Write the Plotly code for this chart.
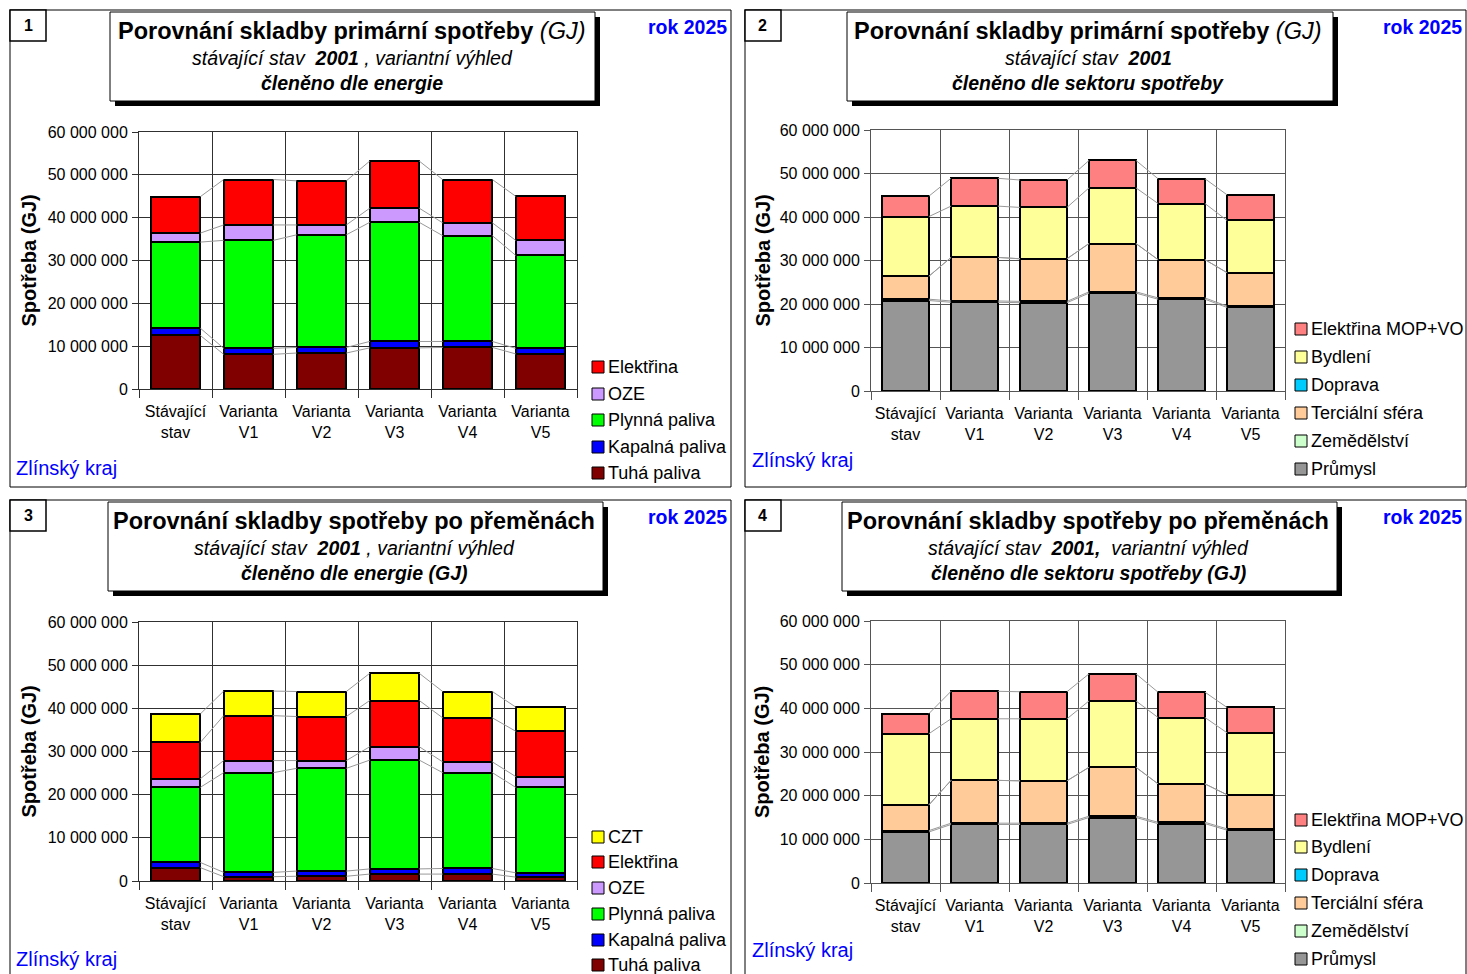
import plotly.graph_objects as go

W, H = 1467, 974
FONT = "Liberation Sans, Arial, sans-serif"

categories = ["Stávající<br>stav", "Varianta<br>V1", "Varianta<br>V2",
              "Varianta<br>V3", "Varianta<br>V4", "Varianta<br>V5"]
y_ticks = [0, 10_000_000, 20_000_000, 30_000_000, 40_000_000, 50_000_000, 60_000_000]

# ---- Chart 1: primary consumption by energy (GJ)
c1_tuha = [12_500_000, 8_100_000, 8_400_000, 9_600_000, 9_700_000, 8_200_000]
c1_kapalna = [1_700_000, 1_400_000, 1_300_000, 1_500_000, 1_400_000, 1_300_000]
c1_plynna = [20_100_000, 25_200_000, 26_300_000, 27_800_000, 24_700_000, 21_700_000]
c1_oze = [2_100_000, 3_600_000, 2_300_000, 3_300_000, 3_000_000, 3_500_000]
c1_elektrina = [8_500_000, 10_600_000, 10_300_000, 11_000_000, 10_100_000, 10_300_000]

# ---- Chart 2: primary consumption by sector (GJ)
c2_prumysl = [20_800_000, 20_400_000, 20_300_000, 22_500_000, 21_100_000, 19_200_000]
c2_zemedelstvi = [300_000, 300_000, 300_000, 300_000, 300_000, 300_000]
c2_tercialni = [5_300_000, 10_000_000, 9_800_000, 11_100_000, 8_800_000, 7_700_000]
c2_doprava = [0, 0, 0, 0, 0, 0]
c2_bydleni = [13_700_000, 11_800_000, 11_800_000, 12_800_000, 12_900_000, 12_000_000]
c2_elektrina = [4_700_000, 6_400_000, 6_300_000, 6_300_000, 5_700_000, 5_900_000]

# ---- Chart 3: consumption after conversion by energy (GJ)
c3_tuha = [3_100_000, 1_000_000, 1_100_000, 1_600_000, 1_600_000, 900_000]
c3_kapalna = [1_200_000, 1_000_000, 1_200_000, 1_200_000, 1_300_000, 1_000_000]
c3_plynna = [17_400_000, 23_100_000, 23_800_000, 25_200_000, 22_200_000, 19_800_000]
c3_oze = [2_000_000, 2_800_000, 1_800_000, 3_100_000, 2_500_000, 2_500_000]
c3_elektrina = [8_400_000, 10_400_000, 10_200_000, 10_700_000, 10_200_000, 10_500_000]
c3_czt = [6_600_000, 5_700_000, 5_800_000, 6_300_000, 6_100_000, 5_600_000]

# ---- Chart 4: consumption after conversion by sector (GJ)
c4_prumysl = [11_700_000, 13_400_000, 13_400_000, 15_000_000, 13_600_000, 12_100_000]
c4_zemedelstvi = [300_000, 300_000, 300_000, 300_000, 300_000, 300_000]
c4_tercialni = [5_900_000, 9_800_000, 9_700_000, 11_200_000, 8_800_000, 7_800_000]
c4_doprava = [0, 0, 0, 0, 0, 0]
c4_bydleni = [16_300_000, 14_100_000, 14_200_000, 15_200_000, 15_200_000, 14_200_000]
c4_elektrina = [4_600_000, 6_300_000, 6_200_000, 6_200_000, 5_800_000, 5_800_000]

COL = {
    "Tuhá paliva": "#800000", "Kapalná paliva": "#0000FF", "Plynná paliva": "#00FF00",
    "OZE": "#CC99FF", "Elektřina": "#FF0000", "CZT": "#FFFF00",
    "Průmysl": "#969696", "Zemědělství": "#CCFFCC", "Terciální sféra": "#FFCC99",
    "Doprava": "#00CCFF", "Bydlení": "#FFFF99", "Elektřina MOP+VO": "#FF8080",
}

energy1 = [("Tuhá paliva", c1_tuha), ("Kapalná paliva", c1_kapalna), ("Plynná paliva", c1_plynna),
           ("OZE", c1_oze), ("Elektřina", c1_elektrina)]
sector2 = [("Průmysl", c2_prumysl), ("Zemědělství", c2_zemedelstvi), ("Terciální sféra", c2_tercialni),
           ("Doprava", c2_doprava), ("Bydlení", c2_bydleni), ("Elektřina MOP+VO", c2_elektrina)]
energy3 = [("Tuhá paliva", c3_tuha), ("Kapalná paliva", c3_kapalna), ("Plynná paliva", c3_plynna),
           ("OZE", c3_oze), ("Elektřina", c3_elektrina), ("CZT", c3_czt)]
sector4 = [("Průmysl", c4_prumysl), ("Zemědělství", c4_zemedelstvi), ("Terciální sféra", c4_tercialni),
           ("Doprava", c4_doprava), ("Bydlení", c4_bydleni), ("Elektřina MOP+VO", c4_elektrina)]


def fx(p):
    return p / W


def fy(p):
    return 1 - p / H


panels = [
    dict(num="1", box=(10, 10, 731, 487), plot=(139, 132, 577, 389), grid="#303030",
         tbox=(110, 12, 595, 101), tcx=352, tys=(31, 58, 83),
         t1="<b>Porovnání skladby primární spotřeby</b> <i>(GJ)</i>",
         t2="<i>stávající stav  <b>2001</b> , variantní výhled</i>",
         t3="<b><i>členěno dle energie</i></b>",
         rok=(729, 27), zk=(14, 468), ytx=28,
         legx=592, legy=[367, 394, 420, 447, 473], series=energy1),
    dict(num="2", box=(745, 10, 1466, 487), plot=(871, 130, 1285, 391), grid="#555555",
         tbox=(847, 12, 1333, 101), tcx=1088, tys=(31, 58, 83),
         t1="<b>Porovnání skladby primární spotřeby</b> <i>(GJ)</i>",
         t2="<i>stávající stav  <b>2001</b></i>",
         t3="<b><i>členěno dle sektoru spotřeby</i></b>",
         rok=(1464, 27), zk=(750, 460), ytx=762,
         legx=1295, legy=[329, 357, 385, 413, 441, 469], series=sector2),
    dict(num="3", box=(10, 500, 731, 980), plot=(139, 622, 577, 881), grid="#303030",
         tbox=(108, 502, 603, 591), tcx=354, tys=(521, 548, 573),
         t1="<b>Porovnání skladby spotřeby po přeměnách</b>",
         t2="<i>stávající stav  <b>2001</b> , variantní výhled</i>",
         t3="<b><i>členěno dle energie (GJ)</i></b>",
         rok=(729, 517), zk=(14, 959), ytx=28,
         legx=592, legy=[837, 862, 888, 914, 940, 965], series=energy3),
    dict(num="4", box=(745, 500, 1466, 980), plot=(871, 621, 1285, 883), grid="#555555",
         tbox=(842, 502, 1337, 591), tcx=1088, tys=(521, 548, 573),
         t1="<b>Porovnání skladby spotřeby po přeměnách</b>",
         t2="<i>stávající stav  <b>2001,</b>  variantní výhled</i>",
         t3="<b><i>členěno dle sektoru spotřeby (GJ)</i></b>",
         rok=(1464, 517), zk=(750, 950), ytx=762,
         legx=1295, legy=[820, 847, 875, 903, 931, 959], series=sector4),
]

BAR_W = 0.68
xpos = list(range(len(categories)))

fig = go.Figure()
shapes = []
annotations = []
layout_axes = {}

for k, p in enumerate(panels, start=1):
    xa = "x" if k == 1 else f"x{k}"
    ya = "y" if k == 1 else f"y{k}"
    xkey = "xaxis" if k == 1 else f"xaxis{k}"
    ykey = "yaxis" if k == 1 else f"yaxis{k}"
    gc = p["grid"]

    # stacked bars
    cum = [0] * len(categories)
    tops = []
    for name, vals in p["series"]:
        fig.add_trace(go.Bar(
            x=xpos, y=vals, width=BAR_W, name=name,
            marker=dict(color=COL[name], line=dict(color="black", width=2)),
            xaxis=xa, yaxis=ya, showlegend=False))
        cum = [c + v for c, v in zip(cum, vals)]
        tops.append(list(cum))

    # Excel-style series lines joining segment tops
    lx, ly = [], []
    for t in tops:
        for i in range(len(categories) - 1):
            lx += [xpos[i] + BAR_W / 2, xpos[i + 1] - BAR_W / 2, None]
            ly += [t[i], t[i + 1], None]
    fig.add_trace(go.Scatter(x=lx, y=ly, mode="lines", line=dict(color="#999999", width=1),
                             xaxis=xa, yaxis=ya, hoverinfo="skip", showlegend=False))

    x0, y0, x1, y1 = p["plot"]
    layout_axes[xkey] = dict(
        domain=[fx(x0), fx(x1)], anchor=ya, range=[-0.5, len(categories) - 0.5],
        automargin=False,
        tickmode="array", tickvals=xpos, ticktext=categories, ticks="",
        ticklabelstandoff=8,
        showgrid=False, zeroline=False, showline=True, linecolor=gc, linewidth=1, mirror=True,
        tickfont=dict(family=FONT, size=16, color="black"),
        minor=dict(tickmode="array", tickvals=[i - 0.5 for i in range(len(categories) + 1)],
                   ticks="outside", ticklen=8, tickcolor=gc, showgrid=True,
                   gridcolor=gc, gridwidth=1),
    )
    layout_axes[ykey] = dict(
        domain=[fy(y1), fy(y0)], anchor=xa, range=[0, 60_000_000],
        automargin=False,
        tickmode="array", tickvals=y_ticks, tickformat=",d",
        ticks="outside", ticklen=6, tickcolor=gc, ticklabelstandoff=1,
        showgrid=True, gridcolor=gc, gridwidth=1, zeroline=False,
        showline=True, linecolor=gc, linewidth=1, mirror=True,
        tickfont=dict(family=FONT, size=16, color="black"),
    )

    # panel border
    bx0, by0, bx1, by1 = p["box"]
    shapes.append(dict(type="rect", xref="paper", yref="paper",
                       x0=fx(bx0), x1=fx(bx1), y0=fy(by1), y1=fy(by0),
                       line=dict(color="black", width=1), fillcolor="rgba(0,0,0,0)"))
    # number box
    shapes.append(dict(type="rect", xref="paper", yref="paper",
                       x0=fx(bx0), x1=fx(bx0 + 36), y0=fy(by0 + 31), y1=fy(by0),
                       line=dict(color="black", width=1.5), fillcolor="white"))
    annotations.append(dict(xref="paper", yref="paper", x=fx(bx0 + 18), y=fy(by0 + 15),
                            text=f"<b>{p['num']}</b>", showarrow=False,
                            font=dict(family=FONT, size=16, color="black"),
                            xanchor="center", yanchor="middle"))
    # title box with shadow
    tx0, ty0, tx1, ty1 = p["tbox"]
    shapes.append(dict(type="rect", xref="paper", yref="paper",
                       x0=fx(tx0 + 5), x1=fx(tx1 + 5), y0=fy(ty1 + 5), y1=fy(ty0 + 5),
                       line=dict(color="black", width=0), fillcolor="black"))
    shapes.append(dict(type="rect", xref="paper", yref="paper",
                       x0=fx(tx0), x1=fx(tx1), y0=fy(ty1), y1=fy(ty0),
                       line=dict(color="black", width=1), fillcolor="white"))
    for txt, ty, sz in [(p["t1"], p["tys"][0], 23.5), (p["t2"], p["tys"][1], 19.5),
                        (p["t3"], p["tys"][2], 19.5)]:
        annotations.append(dict(xref="paper", yref="paper", x=fx(p["tcx"]), y=fy(ty), text=txt,
                                showarrow=False, xanchor="center", yanchor="middle",
                                font=dict(family=FONT, size=sz, color="black")))
    # rok 2025
    annotations.append(dict(xref="paper", yref="paper", x=fx(p["rok"][0]), y=fy(p["rok"][1]),
                            text="<b>rok 2025</b>", showarrow=False, xanchor="right", yanchor="middle",
                            font=dict(family=FONT, size=19.5, color="#0000FF")))
    # Zlínský kraj
    annotations.append(dict(xref="paper", yref="paper", x=fx(p["zk"][0]), y=fy(p["zk"][1]),
                            text="Zlínský kraj", showarrow=False, xanchor="left", yanchor="middle",
                            font=dict(family=FONT, size=20, color="#0000FF")))
    # y axis title
    annotations.append(dict(xref="paper", yref="paper", x=fx(p["ytx"]), y=fy((y0 + y1) / 2),
                            text="<b>Spotřeba (GJ)</b>", textangle=-90, showarrow=False,
                            xanchor="center", yanchor="middle",
                            font=dict(family=FONT, size=20, color="black")))
    # legend (top series first)
    for (name, _), ly_ in zip(reversed(p["series"]), p["legy"]):
        lx0 = p["legx"]
        shapes.append(dict(type="rect", xref="paper", yref="paper",
                           x0=fx(lx0), x1=fx(lx0 + 12), y0=fy(ly_ + 6), y1=fy(ly_ - 6),
                           line=dict(color="black", width=1), fillcolor=COL[name]))
        annotations.append(dict(xref="paper", yref="paper", x=fx(lx0 + 14), y=fy(ly_),
                                text=name, showarrow=False, xanchor="left", yanchor="middle",
                                font=dict(family=FONT, size=18, color="black")))

fig.update_layout(
    width=W, height=H, margin=dict(l=0, r=0, t=0, b=0, pad=0, autoexpand=False),
    paper_bgcolor="white", plot_bgcolor="white",
    barmode="stack", bargap=0.32, showlegend=False,
    separators=", ",
    font=dict(family=FONT, color="black"),
    shapes=shapes, annotations=annotations,
    **layout_axes,
)

fig.write_html("out.html",
               config={"displayModeBar": False},
               post_script="document.body.style.margin='0';document.body.style.overflow='hidden';")
